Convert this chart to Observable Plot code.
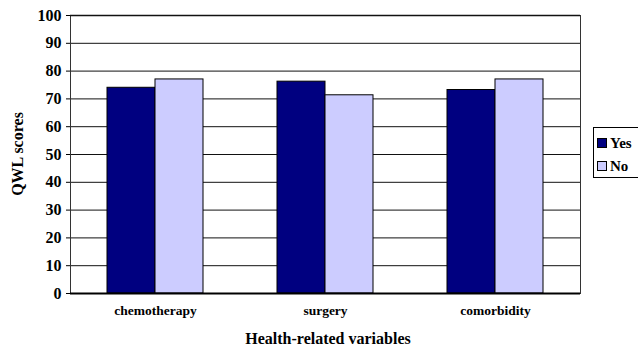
<!DOCTYPE html>
<html>
<head>
<meta charset="utf-8">
<script src="https://cdn.jsdelivr.net/npm/d3@7"></script>
<script src="https://cdn.jsdelivr.net/npm/@observablehq/plot@0.6"></script>
<style>
  html, body { margin: 0; padding: 0; background: #fff; overflow: hidden; }
  #wrap { position: relative; width: 638px; height: 347px; }
  #wrap svg text { font-family: "Liberation Serif", "Times New Roman", serif; font-weight: bold; }
  #legend { position: absolute; left: 593px; top: 127px; width: 60px; height: 51px;
    border: 1px solid #000; box-sizing: border-box; background: #fff;
    font-family: "Liberation Serif", "Times New Roman", serif; font-weight: bold; font-size: 15px; }
  .item { position: absolute; left: 3px; display: flex; align-items: center; line-height: 16px; }
  .sw { width: 8px; height: 8px; border: 1px solid #000; margin-right: 3px; }
</style>
</head>
<body>
<div id="wrap"></div>
<script>
const categories = ["chemotherapy", "surgery", "comorbidity"];
const series = ["Yes", "No"];
const yesValues = [74, 76.2, 73.2];
const noValues = [77, 71.3, 77];
const yTicks = [0, 10, 20, 30, 40, 50, 60, 70, 80, 90, 100];
const seriesColors = ["#000080", "#CCCCFF"];

const data = categories.flatMap((c, i) => [
  {category: c, group: series[0], value: yesValues[i]},
  {category: c, group: series[1], value: noValues[i]}
]);

const font = "Liberation Serif";

const chart = Plot.plot({
  width: 638,
  height: 347,
  marginLeft: 70,
  marginRight: 58,
  marginTop: 15,
  marginBottom: 54,
  style: {fontFamily: font, fontWeight: "bold", color: "#000", background: "#fff"},
  fx: {domain: categories, padding: 0, axis: null},
  x: {domain: series, axis: null, paddingInner: 0, paddingOuter: 0.735},
  y: {domain: [0, 100], axis: null},
  color: {domain: series, range: seriesColors},
  marks: [
    Plot.ruleY(yTicks.filter(d => d > 0 && d < 100), {stroke: "#111", strokeWidth: 1}),
    Plot.barY(data, {fx: "category", x: "group", y: "value", fill: "group", stroke: "#000", strokeWidth: 1}),
    Plot.frame({facet: "super", stroke: "#333", strokeWidth: 1}),
    Plot.ruleY([100], {stroke: "#111", strokeWidth: 1.5}),
    Plot.ruleY([0], {stroke: "#000", strokeWidth: 2}),
    Plot.axisY({ticks: yTicks, tickSize: 4, tickPadding: 5, fontSize: 16, fontFamily: font, fontWeight: "bold", label: null, facetAnchor: "left"}),
    Plot.axisFx({domain: categories, anchor: "bottom", tickSize: 0, tickPadding: 12, fontSize: 13.5, fontFamily: font, fontWeight: "bold", label: null})
  ]
});
document.getElementById("wrap").appendChild(chart);

// axis titles as SVG text
const svg = d3.select(chart);
svg.append("text")
  .attr("x", 328).attr("y", 338).attr("dy", "0.35em")
  .attr("text-anchor", "middle")
  .attr("font-size", 16).attr("font-family", font).attr("font-weight", "bold")
  .text("Health-related variables");
svg.append("text")
  .attr("transform", "translate(17,154) rotate(-90)")
  .attr("dy", "0.35em")
  .attr("text-anchor", "middle")
  .attr("font-size", 16).attr("font-family", font).attr("font-weight", "bold")
  .text("QWL scores");

const legend = document.createElement("div");
legend.id = "legend";
series.forEach((s, i) => {
  const item = document.createElement("div");
  item.className = "item";
  item.style.top = (7 + i * 23) + "px";
  const sw = document.createElement("div");
  sw.className = "sw";
  sw.style.background = seriesColors[i];
  const t = document.createElement("span");
  t.textContent = s;
  item.appendChild(sw);
  item.appendChild(t);
  legend.appendChild(item);
});
document.getElementById("wrap").appendChild(legend);
</script>
</body>
</html>
